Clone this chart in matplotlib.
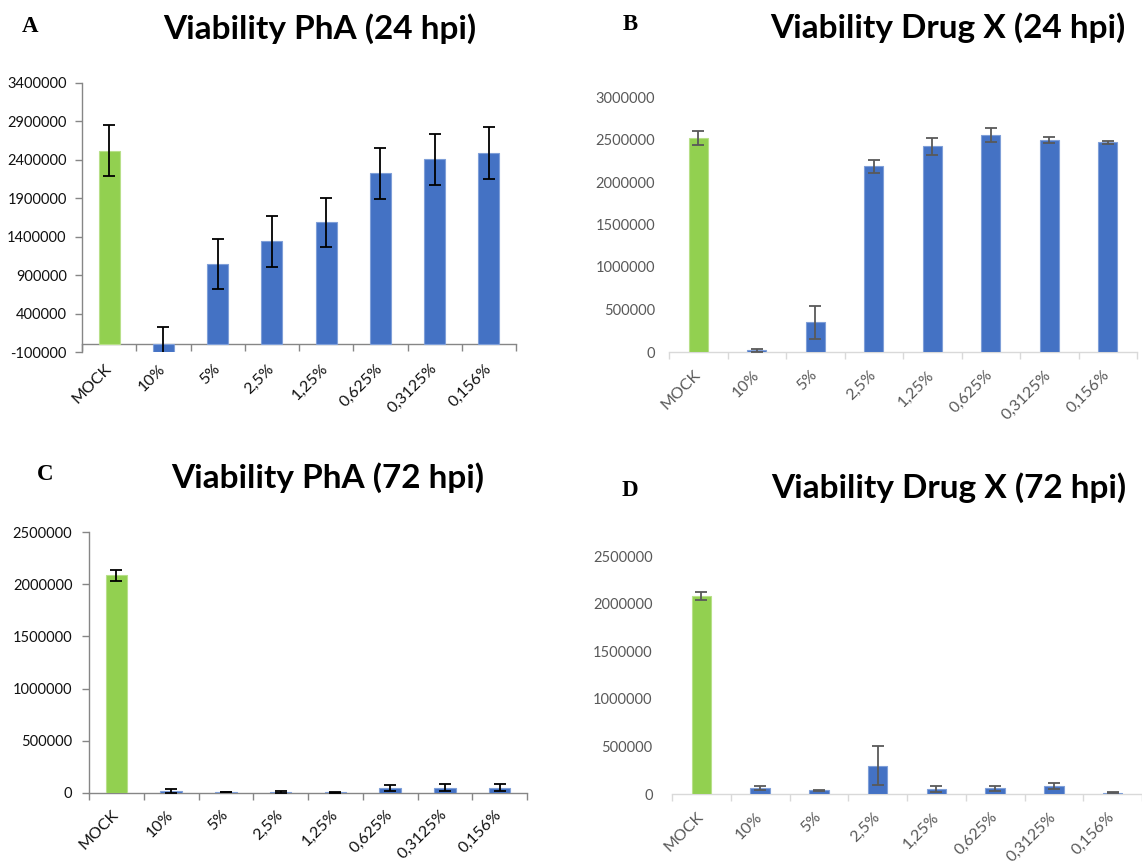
import matplotlib
matplotlib.use('Agg')
import matplotlib.pyplot as plt
import numpy as np
from matplotlib.ticker import FixedLocator, FuncFormatter

categories = ['MOCK', '10%', '5%', '2,5%', '1,25%', '0,625%', '0,3125%', '0,156%']

pha24 = [2520000, -100000, 1046000, 1342000, 1585000, 2223000, 2405000, 2492000]
pha24_err = [330000, 330000, 326000, 330000, 325000, 330000, 326000, 335000]

drug24 = [2518000, 20000, 350000, 2184000, 2420000, 2549000, 2498000, 2467000]
drug24_err = [77000, 20000, 195000, 75000, 98000, 82000, 35000, 20000]

pha72 = [2085000, 19000, 8000, 12000, 8000, 51000, 51000, 51000]
pha72_err = [51000, 16000, 3000, 8000, 4000, 29000, 35000, 35000]

drug72 = [2079000, 66000, 38000, 296000, 52000, 59000, 87000, 15000]
drug72_err = [45000, 21000, 8000, 205000, 33000, 28000, 31000, 3000]

yticks_a = [-100000, 400000, 900000, 1400000, 1900000, 2400000, 2900000, 3400000]
yticks_b = [0, 500000, 1000000, 1500000, 2000000, 2500000, 3000000]
yticks_c = [0, 500000, 1000000, 1500000, 2000000, 2500000]
yticks_d = [0, 500000, 1000000, 1500000, 2000000, 2500000]

titles = ['Viability PhA (24 hpi)', 'Viability Drug X (24 hpi)',
          'Viability PhA (72 hpi)', 'Viability Drug X (72 hpi)']
letters = ['A', 'B', 'C', 'D']

W, H = 1142, 864
fig = plt.figure(figsize=(W / 100, H / 100), dpi=100)

GREEN = '#92D050'
BLUE = '#4472C4'
FONT = 'Lato'


def make_axes(l, r, t, b):
    return fig.add_axes([l / W, 1 - b / H, (r - l) / W, (b - t) / H])


def draw_panel(ax, vals, errs, yticks, ylim, style, width, capsize, label_pad, ypad):
    x = np.arange(len(categories))
    colors = [GREEN] + [BLUE] * (len(categories) - 1)
    edges = ['#B8E08A'] + ['#7F9FD8'] * (len(categories) - 1)
    if style == 'old':
        ecol, axcol, tcol = '#000000', '#868686', '#111111'
    else:
        ecol, axcol, tcol = '#595959', '#D9D9D9', '#595959'
    ax.bar(x, vals, width=width, color=colors, edgecolor=edges, linewidth=0.8, zorder=2)
    ax.errorbar(x, vals, yerr=errs, fmt='none', ecolor=ecol, elinewidth=1.3,
                capsize=capsize, capthick=1.3, zorder=3)
    ax.set_xlim(-0.5, len(categories) - 0.5)
    ax.set_ylim(*ylim)
    for s in ['top', 'right']:
        ax.spines[s].set_visible(False)
    ax.spines['bottom'].set_position(('data', 0))
    ax.spines['bottom'].set_color(axcol)
    ax.spines['bottom'].set_linewidth(1.0)
    ax.spines['bottom'].set_zorder(1)
    if style == 'old':
        ax.spines['left'].set_color(axcol)
        ax.spines['left'].set_linewidth(1.0)
        ax.tick_params(axis='y', direction='out', length=5, width=1.0, color=axcol,
                       labelsize=10.5, labelcolor=tcol, pad=ypad)
    else:
        ax.spines['left'].set_visible(False)
        ax.tick_params(axis='y', length=0, labelsize=10.5, labelcolor=tcol, pad=ypad)
    ax.yaxis.set_major_locator(FixedLocator(yticks))
    ax.yaxis.set_major_formatter(FuncFormatter(lambda v, p: f'{v:.0f}'))
    ax.set_xticks(x)
    ax.set_xticklabels(categories, rotation=45, ha='right', va='center',
                       rotation_mode='anchor')
    ax.set_xticks(np.arange(len(categories) + 1) - 0.5, minor=True)
    ax.tick_params(axis='x', which='major', length=0, labelsize=11.5,
                   labelcolor=tcol, pad=label_pad)
    ax.tick_params(axis='x', which='minor', direction='out', length=5, width=1.0,
                   color=axcol)
    for lab in ax.get_xticklabels() + ax.get_yticklabels():
        lab.set_fontfamily(FONT)
    ax.patch.set_alpha(0)


axA = make_axes(82, 516, 83, 352)
draw_panel(axA, pha24, pha24_err, yticks_a, (-100000, 3400000), 'old', 0.39, 4, 16, 6)
axB = make_axes(669, 1137, 97, 352)
draw_panel(axB, drug24, drug24_err, yticks_b, (0, 3000000), 'new', 0.33, 4.5, 15, 10)
axC = make_axes(89, 527, 532, 793)
draw_panel(axC, pha72, pha72_err, yticks_c, (0, 2500000), 'old', 0.39, 4, 14, 7)
axD = make_axes(672, 1142, 556, 794)
draw_panel(axD, drug72, drug72_err, yticks_d, (0, 2500000), 'new', 0.33, 4.5, 15, 14)

title_pos = [(320, 29), (948, 28), (328, 478), (949, 488)]
letter_pos = [(30, 26), (630, 25), (45, 475), (630, 490)]
for t, (tx, ty) in zip(titles, title_pos):
    fig.text(tx / W, 1 - ty / H, t, ha='center', va='center', fontsize=24,
             fontweight='bold', fontfamily=FONT, color='black')
for lt, (lx, ly) in zip(letters, letter_pos):
    fig.text(lx / W, 1 - ly / H, lt, ha='center', va='center', fontsize=16.5,
             fontweight='bold', fontfamily='Liberation Serif', color='black')

fig.savefig('out.png', dpi=100)
